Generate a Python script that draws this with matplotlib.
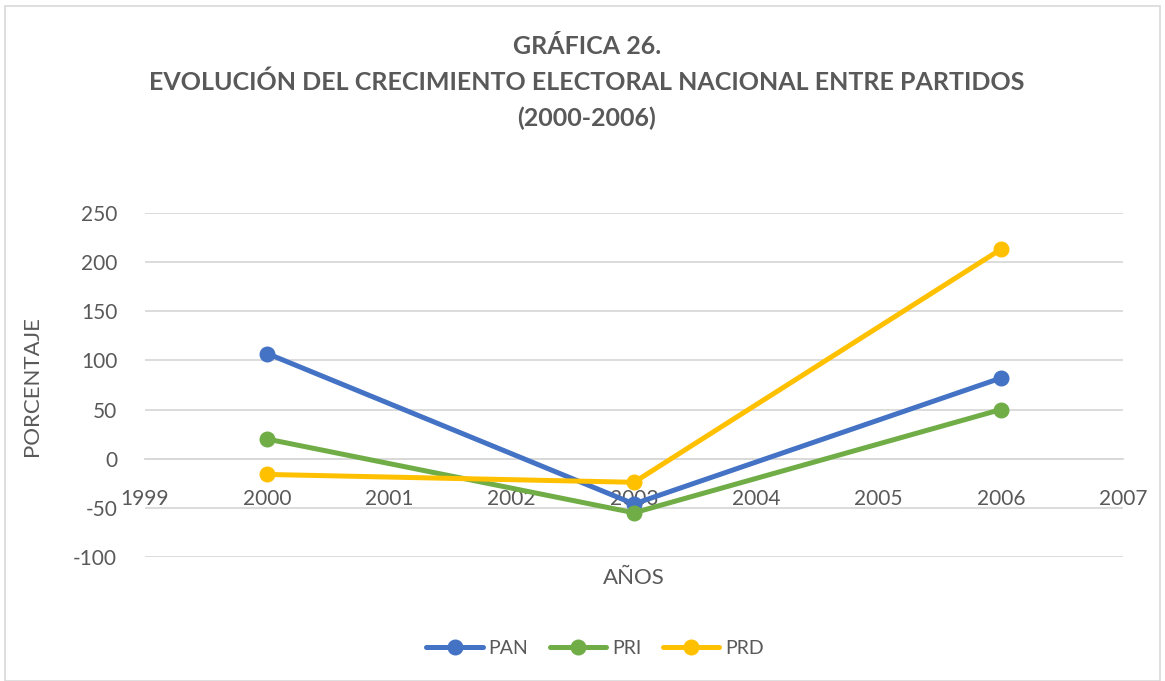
import matplotlib.pyplot as plt
from matplotlib.patches import Rectangle

years = [2000, 2003, 2006]
pan = [107, -46, 82]
pri = [20, -55, 50]
prd = [-16, -24, 213]
series_names = ['PAN', 'PRI', 'PRD']
colors = ['#4472C4', '#70AD47', '#FFC000']
yticks = [-100, -50, 0, 50, 100, 150, 200, 250]
xticks = [1999, 2000, 2001, 2002, 2003, 2004, 2005, 2006, 2007]

plt.rcParams['font.family'] = ['Lato', 'DejaVu Sans']
plt.rcParams['axes.unicode_minus'] = False
txt = '#595959'
grid = '#D9D9D9'

fig = plt.figure(figsize=(11.65, 6.81), dpi=100)
ax = fig.add_axes([145/1165, 1-557/681, (1123-145)/1165, (557-213)/681])

for vals, name, c in zip([pan, pri, prd], series_names, colors):
    ax.plot(years, vals, color=c, lw=3.6, marker='o', ms=10.5, label=name,
            solid_capstyle='round', zorder=3)

ax.set_xlim(1999, 2007)
ax.set_ylim(-100, 250)
ax.set_yticks(yticks)
ax.set_xticks(xticks)
ax.yaxis.grid(True, color=grid, lw=1.3)
ax.set_axisbelow(True)
for s in ['top', 'right', 'left']:
    ax.spines[s].set_visible(False)
ax.spines['bottom'].set_position(('data', 0))
ax.spines['bottom'].set_color(grid)
ax.spines['bottom'].set_linewidth(1.3)
ax.tick_params(axis='both', length=0, labelsize=15, labelcolor=txt)
ax.tick_params(axis='x', pad=22)
ax.tick_params(axis='y', pad=20)

fig.text(32/1165, 1-386/681, 'PORCENTAJE', rotation=90, ha='center', va='center',
         fontsize=16, color=txt)
fig.text(634/1165, 1-578/681, 'AÑOS', ha='center', va='center', fontsize=16, color=txt)

fig.text(587/1165, 1-46/681, 'GRÁFICA 26.', ha='center', va='center', fontsize=18,
         fontweight='bold', color=txt)
fig.text(587/1165, 1-82/681, 'EVOLUCIÓN DEL CRECIMIENTO ELECTORAL NACIONAL ENTRE PARTIDOS',
         ha='center', va='center', fontsize=18, fontweight='bold', color=txt)
fig.text(587/1165, 1-118/681, '(2000-2006)', ha='center', va='center', fontsize=18,
         fontweight='bold', color=txt)

fig.legend(loc='center', bbox_to_anchor=(595/1165, 1-648/681), ncol=3, frameon=False,
           fontsize=14, labelcolor=txt, handlelength=2.9, columnspacing=1.1,
           handletextpad=0.3)

fig.patches.append(Rectangle((5/1165, 0), 1155/1165, 1-6/681, transform=fig.transFigure,
                             fill=False, edgecolor=grid, lw=1.2))

fig.savefig('out.png', dpi=100)
